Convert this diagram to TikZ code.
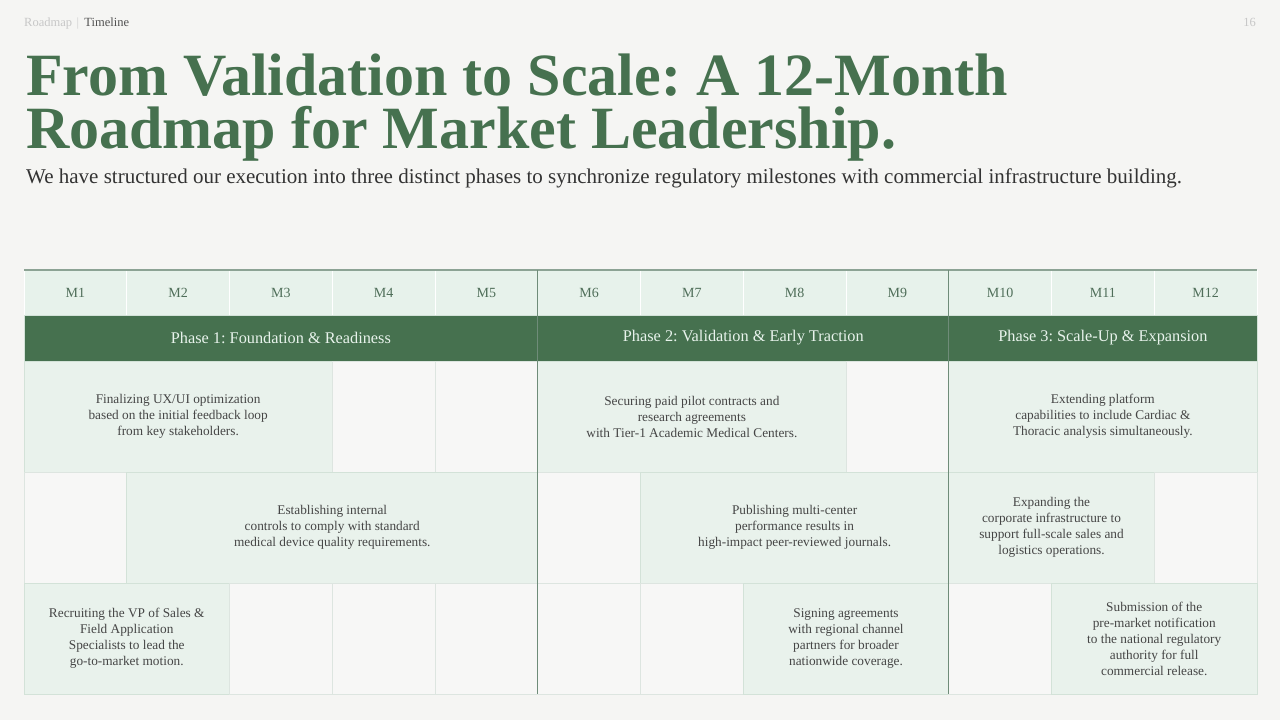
\documentclass[tikz,border=0pt]{standalone}
\usepackage{fontspec}
\setmainfont{Liberation Serif}
\usetikzlibrary{positioning}
\frenchspacing

\definecolor{pagebg}{HTML}{F5F5F3}
\definecolor{leafgreen}{HTML}{46714F}
\definecolor{monthfill}{HTML}{E7F2EB}
\definecolor{taskfill}{HTML}{E9F2EC}
\definecolor{taskline}{HTML}{D3E2D8}
\definecolor{emptyfill}{HTML}{F7F7F6}
\definecolor{emptyline}{HTML}{DDE5E0}
\definecolor{phaseline}{HTML}{6F8C79}
\definecolor{monthtext}{HTML}{4F6E59}
\definecolor{bodytext}{HTML}{454545}
\definecolor{phasetext}{HTML}{E8F3EC}

\tikzset{
  monthcell/.style={fill=monthfill, draw=white, line width=1pt, inner sep=0pt, outer sep=0pt,
    minimum width=102.75pt, minimum height=45pt, text=monthtext, font=\fontsize{14}{16}\selectfont},
  phasebar/.style={fill=leafgreen, draw=taskline, line width=0.6pt, inner sep=0pt, outer sep=0pt,
    minimum height=46pt, text=phasetext, font=\fontsize{16.3}{19}\selectfont},
  task/.style={fill=taskfill, draw=taskline, line width=0.8pt, inner sep=0pt, outer sep=0pt,
    minimum height=111pt, align=center, text=bodytext, font=\fontsize{13.3}{16}\selectfont},
  emptycell/.style={fill=emptyfill, draw=emptyline, line width=0.8pt, inner sep=0pt, outer sep=0pt,
    minimum width=102.75pt, minimum height=111pt},
  divider/.style={draw=phaseline, line width=1.1pt},
  crumbtext/.style={inner sep=0pt, font=\fontsize{12.5}{14}\selectfont},
  titletext/.style={anchor=base west, inner sep=0pt, text=leafgreen, font=\fontsize{60}{53}\selectfont\bfseries}
}

\begin{document}
\begin{tikzpicture}[x=1pt,y=-1pt]
%\draw[help lines] (0,0) grid[step=40] (1280,720);
\useasboundingbox[fill=pagebg] (0,0) rectangle (1280,720);

% header
\node[crumbtext, anchor=base west, text=black!22] (crumb) at (24,26) {Roadmap};
\node[crumbtext, right=4pt of crumb.base east, anchor=base west, text=black!18] (crumbbar) {|};
\node[crumbtext, right=5pt of crumbbar.base east, anchor=base west, text=black!68] (crumbpage) {Timeline};
\node[crumbtext, anchor=base east, text=black!22] (pagenum) at (1256,26) {16};

\node[titletext, text depth=0pt] (title) at (26,95) {From Validation to Scale: A 12-Month};
\node[titletext, text height=42pt] (titlelow) at (26,148) {Roadmap for Market Leadership.};
\node[anchor=base west, inner sep=0pt, text=black!80, font=\fontsize{21}{24}\selectfont] (subtitle) at (26,183)
  {We have structured our execution into three distinct phases to synchronize regulatory milestones with commercial infrastructure building.};

% month row
\node[monthcell] (hm1) at (75.375,292.5) {M1};
\node[monthcell, right=0pt of hm1] (hm2) {M2};
\node[monthcell, right=0pt of hm2] (hm3) {M3};
\node[monthcell, right=0pt of hm3] (hm4) {M4};
\node[monthcell, right=0pt of hm4] (hm5) {M5};
\node[monthcell, right=0pt of hm5] (hm6) {M6};
\node[monthcell, right=0pt of hm6] (hm7) {M7};
\node[monthcell, right=0pt of hm7] (hm8) {M8};
\node[monthcell, right=0pt of hm8] (hm9) {M9};
\node[monthcell, right=0pt of hm9] (hm10) {M10};
\node[monthcell, right=0pt of hm10] (hm11) {M11};
\node[monthcell, right=0pt of hm11] (hm12) {M12};

% phase row
\node[phasebar, minimum width=513.75pt] (phase1) at (280.875,338) {Phase 1: Foundation \& Readiness};
\node[phasebar, minimum width=411pt, right=0pt of phase1] (phase2) {Phase 2: Validation \& Early Traction};
\node[phasebar, minimum width=308.25pt, right=0pt of phase2] (phase3) {Phase 3: Scale-Up \& Expansion};

% row 1
\node[task, minimum width=308.25pt] (ux) at (178.125,416.5)
  {Finalizing UX/UI optimization\\based on the initial feedback loop\\from key stakeholders.};
\node[emptycell, right=0pt of ux] (e4a) {};
\node[emptycell, right=0pt of e4a] (e5a) {};
\node[task, minimum width=308.25pt, right=0pt of e5a] (pilot)
  {Securing paid pilot contracts and\\research agreements\\with Tier-1 Academic Medical Centers.};
\node[emptycell, right=0pt of pilot] (e9a) {};
\node[task, minimum width=308.25pt, right=0pt of e9a] (cardiac)
  {Extending platform\\capabilities to include Cardiac \&\\Thoracic analysis simultaneously.};

% row 2
\node[emptycell] (e1b) at (75.375,527.5) {};
\node[task, minimum width=411pt, right=0pt of e1b] (qms)
  {Establishing internal\\controls to comply with standard\\medical device quality requirements.};
\node[emptycell, right=0pt of qms] (e6b) {};
\node[task, minimum width=308.25pt, right=0pt of e6b] (pub)
  {Publishing multi-center\\performance results in\\high-impact peer-reviewed journals.};
\node[task, minimum width=205.5pt, right=0pt of pub] (infra)
  {Expanding the\\corporate infrastructure to\\support full-scale sales and\\logistics operations.};
\node[emptycell, right=0pt of infra] (e12b) {};

% row 3
\node[task, minimum width=205.5pt] (vp) at (126.75,638.5)
  {Recruiting the VP of Sales \&\\Field Application\\Specialists to lead the\\go-to-market motion.};
\node[emptycell, right=0pt of vp] (e3c) {};
\node[emptycell, right=0pt of e3c] (e4c) {};
\node[emptycell, right=0pt of e4c] (e5c) {};
\node[emptycell, right=0pt of e5c] (e6c) {};
\node[emptycell, right=0pt of e6c] (e7c) {};
\node[task, minimum width=205.5pt, right=0pt of e7c] (chan)
  {Signing agreements\\with regional channel\\partners for broader\\nationwide coverage.};
\node[emptycell, right=0pt of chan] (e10c) {};
\node[task, minimum width=205.5pt, right=0pt of e10c] (fda)
  {Submission of the\\pre-market notification\\to the national regulatory\\authority for full\\commercial release.};

% rules
\draw[draw=phaseline!80, line width=1.4pt] (hm1.north west) -- (hm12.north east);
\draw[divider] (hm6.north west) -- (e6c.south west);
\draw[divider] (hm10.north west) -- (e10c.south west);

\end{tikzpicture}
\end{document}
